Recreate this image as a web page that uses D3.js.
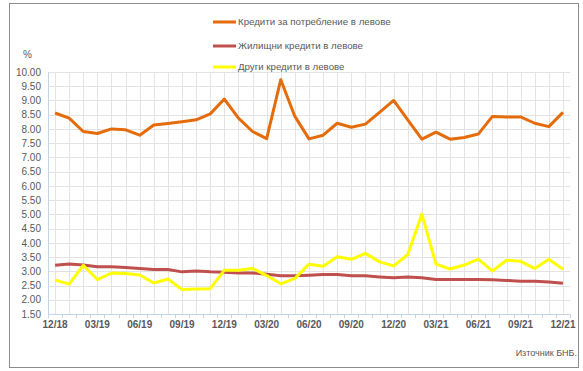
<!DOCTYPE html>
<html>
<head>
<meta charset="utf-8">
<script src="https://cdn.jsdelivr.net/npm/d3@7"></script>
<style>
  body { margin: 0; background: #fff; }
  svg { font-family: "Liberation Sans", Arial, sans-serif; }
</style>
</head>
<body>
<svg id="chart"></svg>
<script>
// месеци 12/18 - 12/21
const months = ["12/18","01/19","02/19","03/19","04/19","05/19","06/19","07/19","08/19","09/19","10/19","11/19",
  "12/19","01/20","02/20","03/20","04/20","05/20","06/20","07/20","08/20","09/20","10/20","11/20",
  "12/20","01/21","02/21","03/21","04/21","05/21","06/21","07/21","08/21","09/21","10/21","11/21","12/21"];
const seriesNames = ["Кредити за потребление в левове", "Жилищни кредити в левове", "Други кредити в левове"];
const consumer = [8.56,8.38,7.91,7.84,8.00,7.97,7.78,8.14,8.19,8.25,8.32,8.53,
  9.05,8.38,7.91,7.66,9.73,8.44,7.65,7.78,8.20,8.06,8.17,8.58,
  9.00,8.32,7.64,7.89,7.64,7.70,7.82,8.44,8.42,8.42,8.20,8.08,8.58];
const housing = [3.21,3.26,3.22,3.16,3.16,3.13,3.10,3.06,3.06,2.98,3.01,2.98,
  2.97,2.94,2.94,2.90,2.84,2.84,2.86,2.89,2.89,2.84,2.84,2.80,
  2.77,2.80,2.77,2.71,2.71,2.71,2.71,2.70,2.68,2.65,2.65,2.62,2.58];
const other = [2.69,2.55,3.21,2.71,2.94,2.92,2.87,2.59,2.73,2.36,2.38,2.39,
  3.04,3.04,3.10,2.85,2.56,2.75,3.25,3.18,3.51,3.42,3.63,3.33,
  3.19,3.59,5.01,3.25,3.08,3.22,3.43,3.01,3.39,3.35,3.10,3.42,3.07];
const yTicks = [1.5,2,2.5,3,3.5,4,4.5,5,5.5,6,6.5,7,7.5,8,8.5,9,9.5,10];
const xLabels = ["12/18","03/19","06/19","09/19","12/19","03/20","06/20","09/20","12/20","03/21","06/21","09/21","12/21"];
const colors = ["#E46C0A", "#C0504D", "#FFFF00"];

const width = 583, height = 371;
const svg = d3.select("#chart").attr("width", width).attr("height", height);

// рамка
svg.append("rect")
  .attr("x", 9.5).attr("y", 3.5)
  .attr("width", 569).attr("height", 364)
  .attr("fill", "#fff").attr("stroke", "#8c8c8c");

const x = d3.scaleBand().domain(months).range([48, 570]);
const cx = d => x(d) + x.bandwidth() / 2;
const y = d3.scaleLinear().domain([1.5, 10]).range([314, 72]);

// хоризонтални линии
svg.append("g").selectAll("line").data(yTicks).enter().append("line")
  .attr("x1", 48).attr("x2", 570)
  .attr("y1", d => Math.round(y(d)) + 0.5).attr("y2", d => Math.round(y(d)) + 0.5)
  .attr("stroke", "#e3e3e3");
// вертикални линии
svg.append("g").selectAll("line").data(months).enter().append("line")
  .attr("x1", d => Math.round(cx(d)) + 0.5).attr("x2", d => Math.round(cx(d)) + 0.5)
  .attr("y1", 72).attr("y2", 314)
  .attr("stroke", "#e3e3e3");

// ос y
const gy = svg.append("g").attr("transform", "translate(48,0)")
  .call(d3.axisLeft(y).tickValues(yTicks).tickSize(0).tickPadding(7).tickFormat(d3.format(".2f")));
gy.select(".domain").attr("stroke", "#c5d5e8");
gy.selectAll("text").attr("fill", "#595959").style("font-size", "10px");

// ос x
const gx = svg.append("g").attr("transform", "translate(0,314)")
  .call(d3.axisBottom(x).tickValues(xLabels).tickSize(0).tickPadding(7));
gx.select(".domain").attr("stroke", "#c5d5e8");
gx.selectAll("text").attr("fill", "#595959").style("font-size", "10px").style("font-weight", "bold");
svg.append("g").selectAll("line").data(months.concat(["end"])).enter().append("line")
  .attr("x1", (d, i) => Math.round(48 + i * x.step()) + 0.5)
  .attr("x2", (d, i) => Math.round(48 + i * x.step()) + 0.5)
  .attr("y1", 314).attr("y2", 318)
  .attr("stroke", "#c5d5e8");

// линии
const line = d3.line().x((d, i) => cx(months[i])).y(d => y(d));
[consumer, housing, other].forEach((s, k) => {
  svg.append("path")
    .datum(s)
    .attr("fill", "none")
    .attr("stroke", colors[k])
    .attr("stroke-width", 3)
    .attr("stroke-linejoin", "round")
    .attr("d", line);
});

// легенда
const legY = [22, 46, 67];
const leg = svg.append("g");
seriesNames.forEach((n, k) => {
  leg.append("line")
    .attr("x1", 213).attr("x2", 236)
    .attr("y1", legY[k]).attr("y2", legY[k])
    .attr("stroke", colors[k]).attr("stroke-width", 3);
  leg.append("text")
    .attr("x", 238).attr("y", legY[k]).attr("dy", "0.35em")
    .attr("fill", "#595959").style("font-size", "9.7px")
    .text(n);
});

svg.append("text").attr("x", 23).attr("y", 58)
  .attr("fill", "#595959").style("font-size", "10px").text("%");

svg.append("text").attr("x", 577).attr("y", 356).attr("text-anchor", "end")
  .attr("fill", "#595959").style("font-size", "9px").text("Източник БНБ.");
</script>
</body>
</html>
